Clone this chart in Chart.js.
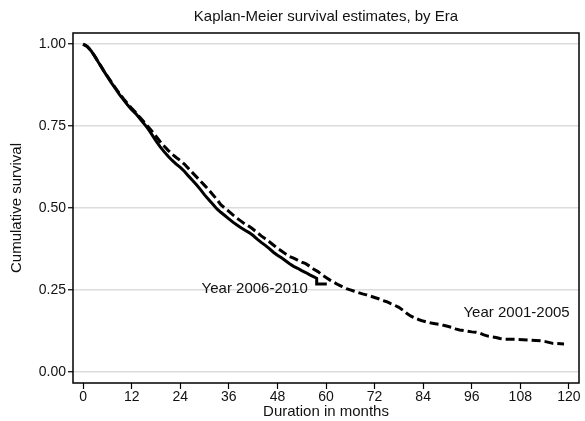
<!DOCTYPE html>
<html>
<head>
<meta charset="utf-8">
<script src="https://cdn.jsdelivr.net/npm/chart.js@4"></script>
<style>
  html, body { margin: 0; padding: 0; background: #fff; }
  #wrap { width: 585px; height: 421px; }
</style>
</head>
<body>
<div id="wrap"><canvas id="chart" width="585" height="421"></canvas></div>
<script>
// Kaplan-Meier estimates, 2001-2005 cohort (dashed)
const monthsA = [0, 1, 2, 3, 4, 5, 6, 7, 8, 9, 10, 11, 12, 13, 14, 15, 16, 17, 18, 19,
  20, 21, 22, 23, 24, 25, 26, 27, 28, 29, 30, 31, 32, 33, 34, 35, 36, 37, 38, 39,
  40, 41, 42, 43, 44, 45, 46, 47, 48, 49, 50, 51, 52, 53, 54, 55, 56, 57, 58, 59,
  60, 61, 62, 63, 64, 65, 66, 67, 68, 69, 70, 71, 72, 73, 74, 75, 76, 77, 78, 79,
  80, 81, 82, 83, 84, 85, 86, 87, 88, 89, 90, 91, 92, 93, 94, 95, 96, 97, 98, 99,
  100, 101, 102, 103, 104, 107, 110, 113, 114, 115, 116, 118.8];
const survivalA = [1.000, 0.993, 0.980, 0.961, 0.941, 0.921, 0.902, 0.884, 0.866, 0.849,
  0.833, 0.818, 0.804, 0.791, 0.777, 0.763, 0.749, 0.734, 0.719, 0.703,
  0.689, 0.676, 0.664, 0.654, 0.645, 0.634, 0.621, 0.608, 0.595, 0.582,
  0.569, 0.556, 0.541, 0.527, 0.510, 0.500, 0.490, 0.479, 0.469, 0.460,
  0.451, 0.444, 0.435, 0.425, 0.415, 0.406, 0.397, 0.387, 0.377, 0.369,
  0.360, 0.352, 0.347, 0.341, 0.335, 0.330, 0.322, 0.313, 0.306, 0.296,
  0.288, 0.280, 0.273, 0.266, 0.260, 0.254, 0.250, 0.246, 0.242, 0.238,
  0.235, 0.231, 0.227, 0.223, 0.218, 0.214, 0.208, 0.203, 0.197, 0.188,
  0.178, 0.170, 0.164, 0.159, 0.155, 0.152, 0.149, 0.147, 0.145, 0.142,
  0.139, 0.136, 0.131, 0.128, 0.126, 0.124, 0.122, 0.121, 0.118, 0.113,
  0.109, 0.107, 0.105, 0.102, 0.100, 0.099, 0.097, 0.095, 0.093, 0.090,
  0.087, 0.085];

// Kaplan-Meier estimates, 2006-2010 cohort (solid)
const monthsB = [0, 1, 2, 3, 4, 5, 6, 7, 8, 9, 10, 11, 12, 13, 14, 15, 16, 17, 18, 19,
  20, 21, 22, 23, 24, 25, 26, 27, 28, 29, 30, 31, 32, 33, 34, 35, 36, 37, 38, 39,
  40, 41, 42, 43, 44, 45, 46, 47, 48, 49, 50, 51, 52, 53, 54, 55, 56, 57, 57.7, 57.7, 60.2];
const survivalB = [1.000, 0.993, 0.979, 0.960, 0.940, 0.920, 0.901, 0.882, 0.864, 0.846,
  0.830, 0.814, 0.800, 0.788, 0.773, 0.758, 0.742, 0.724, 0.705, 0.687,
  0.672, 0.658, 0.645, 0.634, 0.624, 0.612, 0.598, 0.585, 0.571, 0.556,
  0.540, 0.526, 0.512, 0.498, 0.487, 0.477, 0.467, 0.457, 0.448, 0.440,
  0.432, 0.425, 0.416, 0.405, 0.395, 0.386, 0.376, 0.365, 0.356, 0.348,
  0.339, 0.330, 0.322, 0.316, 0.309, 0.303, 0.296, 0.290, 0.285, 0.268, 0.268];

const xTicks = [0, 12, 24, 36, 48, 60, 72, 84, 96, 108, 120];
const yTicks = [0, 0.25, 0.5, 0.75, 1];

const curveLabels = [
  { text: 'Year 2006-2010', x: 55.5, y: 0.254 },
  { text: 'Year 2001-2005', x: 120.2, y: 0.180 }
];

const toPoints = (xs, ys) => xs.map((x, i) => ({ x: x, y: ys[i] }));

Chart.defaults.font.family = '"Liberation Sans", Arial, sans-serif';
Chart.defaults.font.size = 14;
Chart.defaults.color = '#111';

// frame round the plot region, title over it and the curve captions
const plotDecor = {
  id: 'plotDecor',
  afterDatasetsDraw: (chart) => {
    const { ctx, chartArea: { left, top, right, bottom }, scales: { x, y } } = chart;
    ctx.save();
    ctx.strokeStyle = '#000';
    ctx.lineWidth = 1.5;
    ctx.strokeRect(left, top, right - left, bottom - top);

    ctx.fillStyle = '#111';
    ctx.font = '15px "Liberation Sans", Arial, sans-serif';
    ctx.textBaseline = 'middle';
    ctx.textAlign = 'center';
    ctx.fillText('Kaplan-Meier survival estimates, by Era', (left + right) / 2, 17);

    ctx.textAlign = 'right';
    curveLabels.forEach(l => {
      ctx.fillText(l.text, x.getPixelForValue(l.x), y.getPixelForValue(l.y));
    });
    ctx.restore();
  }
};

new Chart(document.getElementById('chart'), {
  type: 'line',
  data: {
    datasets: [{
      label: 'Year 2001-2005',
      data: toPoints(monthsA, survivalA),
      borderColor: '#000',
      borderWidth: 3,
      borderDash: [9, 4],
      tension: 0,
      pointRadius: 0,
      fill: false
    }, {
      label: 'Year 2006-2010',
      data: toPoints(monthsB, survivalB),
      borderColor: '#000',
      borderWidth: 3,
      tension: 0,
      pointRadius: 0,
      fill: false
    }]
  },
  options: {
    responsive: false,
    animation: false,
    layout: { padding: { top: 33, right: 6, bottom: 0, left: 0 } },
    plugins: {
      legend: { display: false },
      tooltip: { enabled: false }
    },
    scales: {
      x: {
        type: 'linear',
        min: -2.5,
        max: 122.5,
        afterBuildTicks: (scale) => {
          scale.ticks = xTicks.map(v => ({ value: v }));
        },
        afterFit: (scale) => { scale.height = 38; },
        grid: {
          drawOnChartArea: false,
          tickLength: 6,
          tickColor: '#000',
          tickWidth: 1.2
        },
        border: { display: false },
        ticks: { padding: 0, maxRotation: 0, autoSkip: false },
        title: {
          display: true,
          text: 'Duration in months',
          font: { size: 15 },
          padding: { top: 0, bottom: 0 }
        }
      },
      y: {
        min: -0.034,
        max: 1.034,
        afterBuildTicks: (scale) => {
          scale.ticks = yTicks.map(v => ({ value: v }));
        },
        afterFit: (scale) => { scale.width = 73; },
        grid: {
          color: '#dcdcdc',
          lineWidth: 1.5,
          tickLength: 5,
          tickColor: '#000',
          tickWidth: 1.2
        },
        border: { display: false },
        ticks: {
          padding: 2,
          callback: (v) => v.toFixed(2)
        },
        title: {
          display: true,
          text: 'Cumulative survival',
          font: { size: 15 },
          padding: { top: 8, bottom: 0 }
        }
      }
    }
  },
  plugins: [plotDecor]
});
</script>
</body>
</html>
